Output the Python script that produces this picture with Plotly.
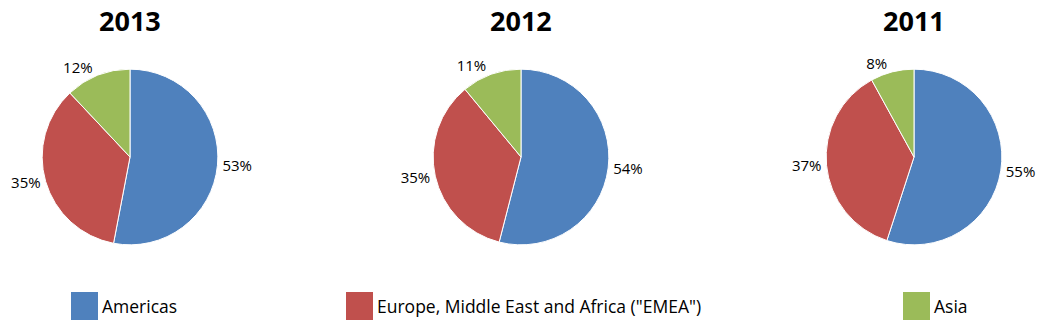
import plotly.graph_objects as go

years = ["2013", "2012", "2011"]
regions = ["Americas", "Europe, Middle East and Africa (\"EMEA\")", "Asia"]
values_2013 = [53, 35, 12]
values_2012 = [54, 35, 11]
values_2011 = [55, 37, 8]
colors = ["#4F81BD", "#C0504D", "#9BBB59"]

all_values = [values_2013, values_2012, values_2011]

W, H = 1046, 323
centers_x = [130, 521, 914]
center_y = 157
half = 0.272  # half height of domain in paper units

fig = go.Figure()
for yr, vals, cx in zip(years, all_values, centers_x):
    xc = cx / W
    yc = 1 - center_y / H
    hw = half * H / W
    fig.add_trace(go.Pie(
        labels=regions, values=vals, name=yr,
        sort=False, direction="clockwise", rotation=0,
        marker=dict(colors=colors, line=dict(color="white", width=1)),
        texttemplate="%{value}%",
        textposition="outside",
        textfont=dict(family="Open Sans, sans-serif", size=15, color="#000"),
        domain=dict(x=[xc - hw, xc + hw], y=[yc - half, yc + half]),
        showlegend=False, hoverinfo="label+value",
    ))
    fig.add_annotation(x=xc, y=1 - 20 / H, xref="paper", yref="paper",
                       yanchor="middle", xanchor="center",
                       text="<b>%s</b>" % yr, showarrow=False,
                       font=dict(family="Open Sans, sans-serif", size=27, color="#000"))

# legend drawn as squares + labels
legend_x = [71, 346, 903]
for name, col, lx in zip(regions, colors, legend_x):
    fig.add_shape(type="rect", xref="paper", yref="paper",
                  x0=lx / W, x1=(lx + 27) / W, y0=1 - 320 / H, y1=1 - 292 / H,
                  fillcolor=col, line=dict(width=0))
    fig.add_annotation(x=(lx + 29) / W, y=1 - 306 / H, xref="paper", yref="paper",
                       xanchor="left", yanchor="middle", text=name, showarrow=False,
                       font=dict(family="Open Sans, sans-serif", size=17.5, color="#000"))

fig.update_layout(width=W, height=H, margin=dict(l=0, r=0, t=0, b=0),
                  paper_bgcolor="white", plot_bgcolor="white")
fig.write_html("out.html")
